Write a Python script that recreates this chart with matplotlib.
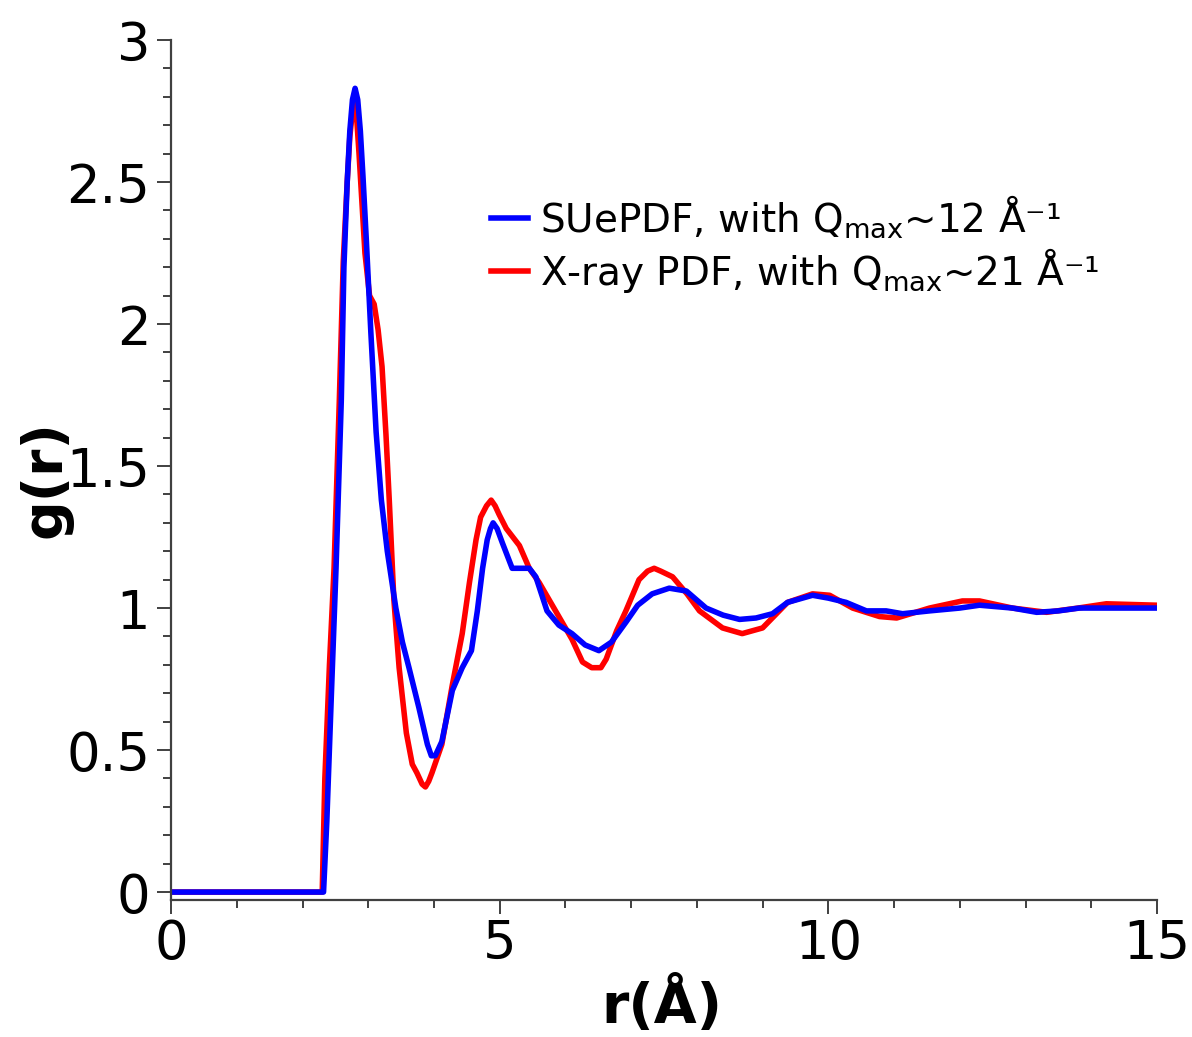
import matplotlib
matplotlib.use("Agg")
import matplotlib.pyplot as plt
from matplotlib.ticker import MultipleLocator

# g(r) du SUePDF (bleu)
r_sue = [0, 2.32, 2.37, 2.44, 2.51, 2.59, 2.63, 2.68, 2.72, 2.76, 2.80, 2.84, 2.88,
         2.92, 2.97, 3.04, 3.12, 3.20, 3.29, 3.42, 3.52, 3.62, 3.77, 3.90, 3.96,
         4.02, 4.12, 4.28, 4.43, 4.57, 4.66, 4.74, 4.81, 4.86, 4.90, 4.96, 5.04,
         5.19, 5.30, 5.45, 5.55, 5.72, 5.90, 6.10, 6.30, 6.51, 6.70, 6.92, 7.10,
         7.32, 7.58, 7.84, 8.14, 8.40, 8.65, 8.90, 9.15, 9.38, 9.76, 10.00, 10.27,
         10.58, 10.88, 11.13, 11.54, 12.00, 12.30, 12.80, 13.17, 13.50, 13.82,
         14.40, 15.00]
g_sue = [0, 0, 0.25, 0.70, 1.14, 1.73, 2.20, 2.50, 2.68, 2.79, 2.83, 2.79, 2.68,
         2.52, 2.30, 1.97, 1.62, 1.38, 1.20, 1.00, 0.88, 0.79, 0.65, 0.52, 0.48,
         0.48, 0.53, 0.71, 0.79, 0.85, 0.99, 1.14, 1.24, 1.28, 1.30, 1.28, 1.23,
         1.14, 1.14, 1.14, 1.11, 0.99, 0.94, 0.91, 0.87, 0.85, 0.88, 0.95, 1.01,
         1.05, 1.07, 1.06, 1.00, 0.975, 0.96, 0.965, 0.98, 1.02, 1.045, 1.035,
         1.02, 0.99, 0.99, 0.98, 0.99, 1.00, 1.01, 1.00, 0.985, 0.99, 1.00,
         1.00, 1.00]

# g(r) du PDF rayons X (rouge)
r_xray = [0, 2.30, 2.34, 2.41, 2.48, 2.56, 2.62, 2.68, 2.72, 2.76, 2.79, 2.82, 2.86,
          2.95, 3.02, 3.09, 3.15, 3.21, 3.27, 3.32, 3.39, 3.47, 3.58, 3.67, 3.74,
          3.82, 3.87, 3.92, 3.97, 4.12, 4.28, 4.43, 4.54, 4.64, 4.71, 4.80, 4.87,
          4.93, 4.99, 5.10, 5.30, 5.45, 5.60, 5.75, 5.95, 6.10, 6.26, 6.40, 6.54,
          6.62, 6.78, 6.92, 7.12, 7.25, 7.35, 7.45, 7.63, 7.85, 8.04, 8.39, 8.69,
          9.00, 9.38, 9.76, 10.02, 10.37, 10.78, 11.04, 11.54, 12.04, 12.30, 12.80,
          13.32, 13.80, 14.23, 15.00]
g_xray = [0, 0, 0.40, 0.80, 1.14, 1.73, 2.22, 2.50, 2.66, 2.75, 2.78, 2.74, 2.60,
          2.25, 2.10, 2.07, 1.98, 1.85, 1.61, 1.38, 1.03, 0.79, 0.56, 0.45, 0.42,
          0.38, 0.37, 0.39, 0.42, 0.52, 0.73, 0.91, 1.09, 1.24, 1.32, 1.36, 1.38,
          1.36, 1.33, 1.28, 1.22, 1.14, 1.09, 1.03, 0.95, 0.89, 0.81, 0.79, 0.79,
          0.82, 0.92, 0.99, 1.10, 1.13, 1.14, 1.13, 1.11, 1.05, 0.99, 0.93, 0.91,
          0.93, 1.02, 1.05, 1.045, 1.00, 0.97, 0.965, 1.00, 1.025, 1.025, 1.00,
          0.985, 1.00, 1.015, 1.01]

labels = [r"SUePDF, with Q$_\mathregular{max}$~12 Å⁻¹",
          r"X-ray PDF, with Q$_\mathregular{max}$~21 Å⁻¹"]

plt.rcParams['font.family'] = ['DejaVu Sans']

fig = plt.figure(figsize=(11.92, 10.37), dpi=100)
ax = fig.add_axes([0.1435, 0.1321, 0.8271, 0.8293])

# rouge d'abord, bleu par-dessus
l_x, = ax.plot(r_xray, g_xray, color='#ff0000', lw=4.0, solid_joinstyle='round')
l_s, = ax.plot(r_sue, g_sue, color='#0000ff', lw=4.0, solid_joinstyle='round')

ax.set_xlim(0, 15)
ax.set_ylim(-0.028, 3)

ax.xaxis.set_major_locator(MultipleLocator(5))
ax.xaxis.set_minor_locator(MultipleLocator(1))
ax.yaxis.set_minor_locator(MultipleLocator(0.1))
ax.set_yticks([0, 0.5, 1, 1.5, 2, 2.5, 3])
ax.set_yticklabels(['0', '0.5', '1', '1.5', '2', '2.5', '3'])

for s in ['top', 'right']:
    ax.spines[s].set_visible(False)
for s in ['left', 'bottom']:
    ax.spines[s].set_color('#404040')
    ax.spines[s].set_linewidth(1.6)

ax.tick_params(which='major', direction='out', length=10, width=1.4,
               color='#404040', labelsize=38, pad=3)
ax.tick_params(which='minor', direction='out', length=6, width=1.4, color='#404040')
ax.tick_params(axis='y', which='major', pad=5)

ax.set_xlabel("r(Å)", fontsize=40, fontweight='bold')
ax.set_ylabel("g(r)", fontsize=40, fontweight='bold')
ax.xaxis.set_label_coords(0.498, -0.089)
ax.yaxis.set_label_coords(-0.10, 0.49)

ax.legend([l_s, l_x], labels, loc='upper left', bbox_to_anchor=(0.309, 0.84),
          frameon=False, fontsize=28, handlelength=0.95, handletextpad=0.3,
          labelspacing=0.15, borderaxespad=0)

fig.savefig("out.png", dpi=100)
